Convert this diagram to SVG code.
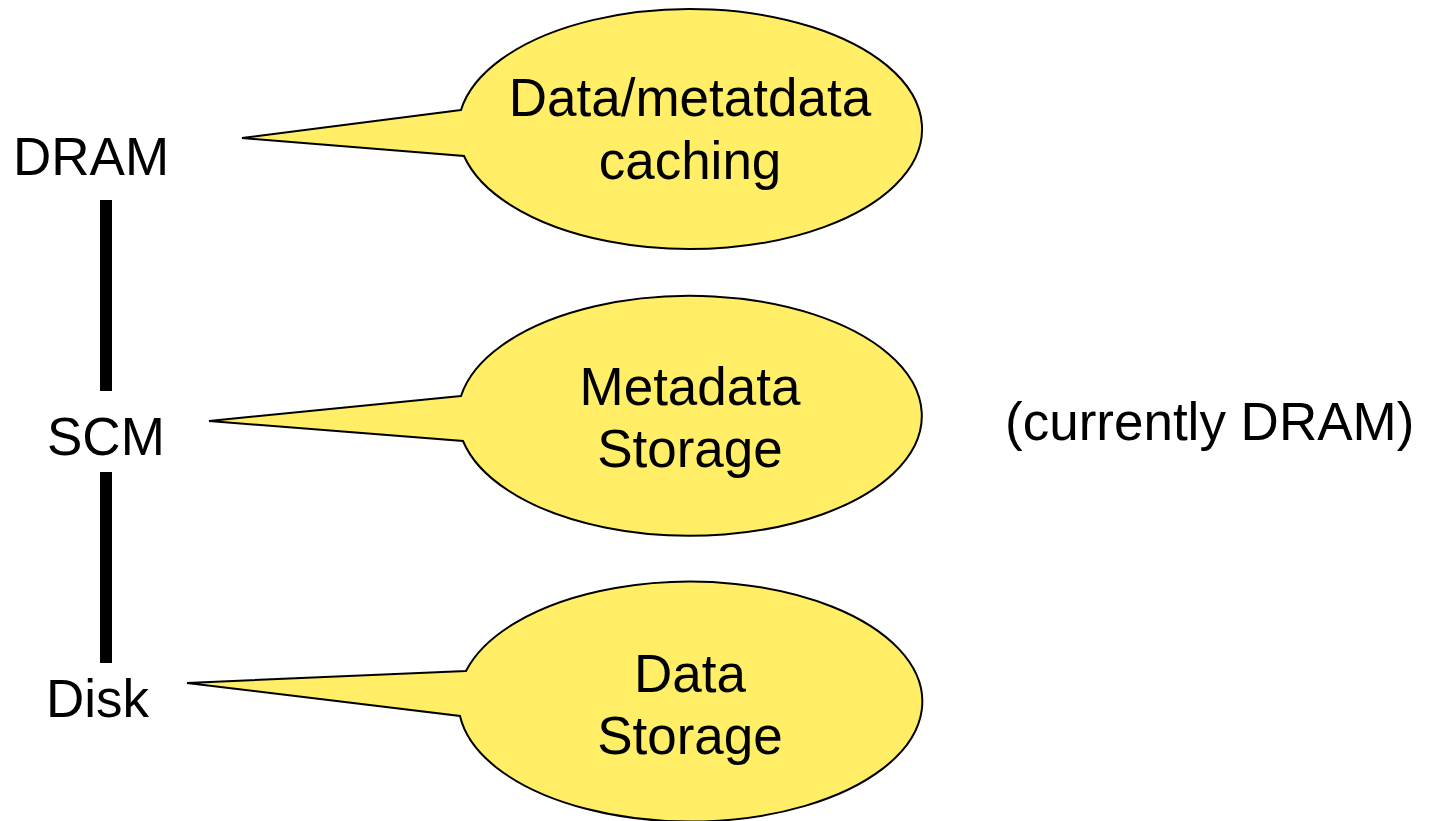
<svg xmlns="http://www.w3.org/2000/svg" width="1429" height="821" viewBox="0 0 1429 821">
<style>
.t{font-family:"Liberation Sans",Arial,sans-serif;font-size:53px;fill:#000}
.c{text-anchor:middle}
.callout{fill:#FFEE66;stroke:#000;stroke-width:2;stroke-linejoin:miter}
.bar{fill:#000}
</style>
<rect width="1429" height="821" fill="#fff"/>
<g id="connectors">
<rect class="bar" x="100" y="200" width="12" height="191"/>
<rect class="bar" x="100" y="472" width="12" height="191"/>
</g>
<g id="dram"><text class="t" x="13" y="175">DRAM</text></g>
<g id="scm"><text class="t" x="47" y="455">SCM</text></g>
<g id="disk"><text class="t" x="46" y="717">Disk</text></g>
<g id="callout1">
<path class="callout" d="M461,110 L242,138 L464,156 A232 120 0 1 0 461,110 Z"/>
<text class="t c" x="690" y="116">Data/metatdata</text>
<text class="t c" x="690" y="179">caching</text>
</g>
<g id="callout2">
<path class="callout" d="M461,396 L209,421 L463,441 A232 120 0 1 0 461,396 Z"/>
<text class="t c" x="690" y="405">Metadata</text>
<text class="t c" x="690" y="467">Storage</text>
</g>
<g id="callout3">
<path class="callout" d="M466,671 L187,683 L460,716 A232 120 0 1 0 466,671 Z"/>
<text class="t c" x="690" y="692">Data</text>
<text class="t c" x="690" y="754">Storage</text>
</g>
<g id="note"><text class="t" x="1005" y="440">(currently DRAM)</text></g>
</svg>
